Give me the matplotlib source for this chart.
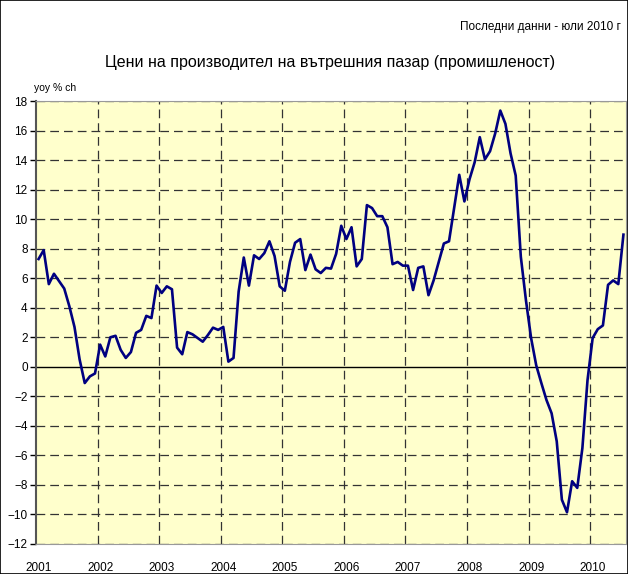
import matplotlib
matplotlib.use("Agg")
import matplotlib.pyplot as plt
import numpy as np
from matplotlib.patches import Rectangle

plt.rcParams['font.family'] = ['Liberation Sans', 'DejaVu Sans']

YEARS = ["2001", "2002", "2003", "2004", "2005", "2006", "2007", "2008", "2009", "2010"]

# monthly yoy % change, Jan 2001 - Jul 2010
ppi = [
    7.3, 7.9, 5.6, 6.3, 5.8, 5.3, 4.1, 2.7, 0.5, -1.1, -0.65, -0.45,
    1.5, 0.7, 2.0, 2.1, 1.15, 0.6, 1.0, 2.3, 2.5, 3.45, 3.3, 5.5,
    5.0, 5.45, 5.25, 1.3, 0.85, 2.35, 2.2, 1.95, 1.7, 2.15, 2.65, 2.5,
    2.7, 0.35, 0.6, 5.1, 7.4, 5.5, 7.55, 7.3, 7.7, 8.5, 7.5, 5.45,
    5.15, 7.1, 8.4, 8.65, 6.55, 7.6, 6.6, 6.35, 6.7, 6.65, 7.65, 9.55,
    8.65, 9.45, 6.8, 7.3, 10.95, 10.75, 10.2, 10.2, 9.45, 6.95, 7.1, 6.85,
    6.85, 5.2, 6.7, 6.8, 4.85, 5.85, 7.1, 8.35, 8.5, 10.75, 13.0, 11.2,
    12.7, 13.85, 15.55, 14.05, 14.6, 15.8, 17.35, 16.45, 14.45, 12.95, 7.45, 4.5,
    1.95, 0.1, -1.1, -2.25, -3.15, -5.05, -9.0, -9.85, -7.75, -8.2, -5.5, -0.9,
    1.95, 2.55, 2.8, 5.55, 5.85, 5.6, 8.95,
]

W, H = 628, 574
fig = plt.figure(figsize=(W / 100, H / 100), dpi=100)
fig.patches.append(Rectangle((0, 0), 1, 1, transform=fig.transFigure,
                             fill=False, edgecolor="black", lw=1.2))

ax = fig.add_axes([36 / W, (H - 544) / H, 590 / W, 443 / H])
ax.set_facecolor("#FFFFCC")

x = np.arange(len(ppi))
ax.set_xlim(-0.5, len(ppi) - 0.5)
ax.set_ylim(-12, 18)

# grid
for yv in range(-12, 19, 2):
    if yv == 0:
        continue
    ax.axhline(yv, color="#333333", lw=0.9, ls=(0, (7, 4)), zorder=1)
for k in range(1, len(YEARS)):
    ax.axvline(12 * k - 0.5, color="#333333", lw=0.9, ls=(0, (7, 4)), zorder=1)
ax.axhline(0, color="black", lw=1.0, zorder=2)

ax.plot(x, ppi, color="#000080", lw=1.9, zorder=3)

ax.set_yticks(range(-12, 19, 2))
ax.set_xticks([12 * k for k in range(len(YEARS))])
ax.set_xticklabels(YEARS)
ax.tick_params(axis="y", length=4, width=1, labelsize=8.5, pad=2)
ax.tick_params(axis="x", length=0, labelsize=8.5, pad=13)

for s in ["top", "right", "bottom"]:
    ax.spines[s].set_color("#999999")
    ax.spines[s].set_linewidth(0.8)
ax.spines["left"].set_color("#555555")
ax.spines["left"].set_linewidth(1.5)

fig.text(621 / W, 1 - 27 / H, "Последни данни - юли 2010 г", ha="right", va="center", fontsize=8.5)
fig.text(330 / W, 1 - 62 / H, "Цени на производител на вътрешния пазар (промишленост)",
         ha="center", va="center", fontsize=11.5)
fig.text(34 / W, 1 - 88 / H, "yoy % ch", ha="left", va="center", fontsize=7.5)

fig.savefig("out.png", dpi=100)
